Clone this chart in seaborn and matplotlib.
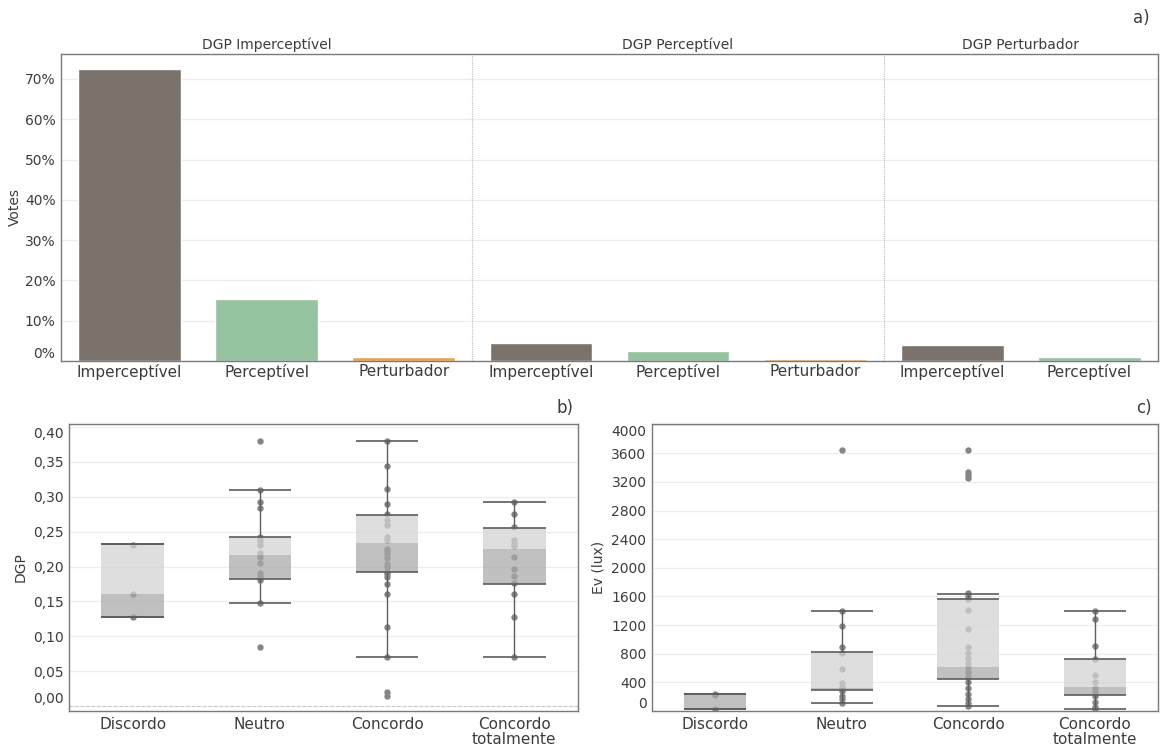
import matplotlib
matplotlib.use("Agg")
import matplotlib.pyplot as plt
import seaborn as sns
import pandas as pd
import numpy as np

# ---------------- data ----------------
# a) votes per DGP class
panel_groups = ["DGP Imperceptível", "DGP Imperceptível", "DGP Imperceptível",
                "DGP Perceptível", "DGP Perceptível", "DGP Perceptível",
                "DGP Perturbador", "DGP Perturbador"]
vote_categories = ["Imperceptível", "Perceptível", "Perturbador",
                   "Imperceptível", "Perceptível", "Perturbador",
                   "Imperceptível", "Perceptível"]
vote_pct = [72.4, 15.4, 1.0, 4.5, 2.6, 0.6, 3.9, 1.0]

# b) / c) agreement categories
agree_labels = ["Discordo", "Neutro", "Concordo", "Concordo\ntotalmente"]

dgp_discordo = [0.231, 0.160, 0.127]
dgp_neutro = [0.380, 0.309, 0.293, 0.284, 0.243, 0.237, 0.231, 0.220, 0.213,
              0.205, 0.190, 0.186, 0.181, 0.148, 0.085]
dgp_concordo = [0.380, 0.344, 0.311, 0.290, 0.275, 0.267, 0.259, 0.243, 0.238,
                0.225, 0.222, 0.218, 0.212, 0.204, 0.199, 0.192, 0.189, 0.185,
                0.175, 0.161, 0.113, 0.070, 0.020, 0.015]
dgp_conc_tot = [0.293, 0.275, 0.256, 0.238, 0.233, 0.229, 0.213, 0.196, 0.186,
                0.176, 0.161, 0.127, 0.070]

dgp_q1 = [0.127, 0.182, 0.192, 0.175]
dgp_med = [0.161, 0.216, 0.234, 0.225]
dgp_q3 = [0.232, 0.242, 0.274, 0.255]
dgp_wlo = [0.127, 0.148, 0.070, 0.070]
dgp_whi = [0.232, 0.309, 0.380, 0.293]

ev_discordo = [232, 218, 31]
ev_neutro = [3645, 1396, 1191, 897, 805, 581, 394, 338, 282, 208, 171, 115]
ev_concordo = [3645, 3342, 3296, 3249, 1643, 1605, 1565, 1410, 1140, 897, 805,
               735, 674, 618, 548, 478, 408, 315, 236, 162, 106, 68]
ev_conc_tot = [1396, 1279, 907, 721, 502, 408, 315, 268, 208, 129, 59, 22]

ev_q1 = [31, 292, 441, 222]
ev_med = [225, 325, 609, 329]
ev_q3 = [232, 818, 1559, 721]
ev_wlo = [31, 115, 68, 31]
ev_whi = [232, 1396, 1633, 1396]

# ---------------- style ----------------
sns.set_theme(style="white")
plt.rcParams["font.family"] = ["DejaVu Sans"]
TXT = "#3c3c3c"
GRID = "#ededed"
SPINE = "#7a7a7a"
plt.rcParams["text.color"] = TXT
plt.rcParams["axes.labelcolor"] = TXT
plt.rcParams["xtick.color"] = TXT
plt.rcParams["ytick.color"] = TXT

palette = {"Imperceptível": "#7b736b", "Perceptível": "#95c29f", "Perturbador": "#e8a24e"}

fig = plt.figure(figsize=(11.61, 7.51), dpi=100)
W, H = 1161, 751


def add_ax(l, t, r, b):
    return fig.add_axes([l / W, 1 - b / H, (r - l) / W, (b - t) / H])


def style_ax(ax):
    for s in ax.spines.values():
        s.set_visible(True)
        s.set_color(SPINE)
        s.set_linewidth(1.0)
    ax.tick_params(axis="both", length=0, labelsize=10, pad=4)
    ax.grid(axis="y", color=GRID, linewidth=0.9)
    ax.grid(axis="x", visible=False)
    ax.set_axisbelow(True)


# ---------------- a) ----------------
axA = add_ax(61, 54, 1158, 361)
keys = [f"{g}|{c}" for g, c in zip(panel_groups, vote_categories)]
dfA = pd.DataFrame({"key": keys, "cat": vote_categories, "pct": vote_pct})
sns.barplot(data=dfA, x="key", y="pct", hue="cat", palette=palette, order=keys,
            dodge=False, width=0.75, saturation=1, legend=False, ax=axA)
style_ax(axA)
axA.set_xlim(-0.5, len(keys) - 0.5)
axA.set_ylim(0, 76.2)
axA.set_yticks(np.arange(0, 71, 10))
axA.set_yticklabels([f"{v}%" for v in range(0, 71, 10)])
axA.set_xticks(range(len(keys)))
axA.set_xticklabels(vote_categories, fontsize=11)
axA.tick_params(axis="x", pad=2)
axA.set_xlabel("")
axA.set_ylabel("Votes", fontsize=10, labelpad=2)
axA.get_yticklabels()[0].set_va("bottom")
# panel separators and titles
uniq_groups = list(dict.fromkeys(panel_groups))
pos = 0
for gi, g in enumerate(uniq_groups):
    n = panel_groups.count(g)
    centre = pos + (n - 1) / 2
    axA.text(centre, 1.005, g, transform=axA.get_xaxis_transform(),
             ha="center", va="bottom", fontsize=10, color=TXT)
    if gi > 0:
        axA.axvline(pos - 0.5, color="#bbbbbb", linestyle=(0, (1, 1)), linewidth=0.8)
    pos += n
fig.text(1150 / W, 1 - 18 / H, "a)", ha="right", va="center", fontsize=12, color=TXT)


# ---------------- box helper ----------------
def draw_box(ax, groups, q1, med, q3, wlo, whi):
    rows = []
    for lab, vals in zip(agree_labels, groups):
        for v in vals:
            rows.append({"cat": lab, "v": v})
    df = pd.DataFrame(rows)
    sns.stripplot(data=df, x="cat", y="v", order=agree_labels, jitter=False,
                  color="#858585", size=4.6, ax=ax, zorder=2)
    bw = 0.49
    x = np.arange(len(agree_labels))
    ax.bar(x, np.array(med) - np.array(q1), bottom=q1, width=bw,
           color="#a8a8a8", alpha=0.72, zorder=3, linewidth=0)
    ax.bar(x, np.array(q3) - np.array(med), bottom=med, width=bw,
           color="#d4d4d4", alpha=0.75, zorder=3, linewidth=0)
    lc = "#5c5c5c"
    ax.vlines(x, q3, whi, color=lc, linewidth=1.0, zorder=4)
    ax.vlines(x, wlo, q1, color=lc, linewidth=1.0, zorder=4)
    for arr in (q1, q3, wlo, whi):
        ax.hlines(arr, x - bw / 2, x + bw / 2, color=lc, linewidth=1.2, zorder=4)
    ax.set_xlim(-0.5, len(agree_labels) - 0.5)
    ax.set_xlabel("")


# ---------------- b) ----------------
axB = add_ax(69, 424, 578, 711)
draw_box(axB, [dgp_discordo, dgp_neutro, dgp_concordo, dgp_conc_tot],
         dgp_q1, dgp_med, dgp_q3, dgp_wlo, dgp_whi)
style_ax(axB)
axB.set_ylim(-0.0071, 0.4043)
bt = np.round(np.arange(0, 0.401, 0.05), 2)
axB.set_yticks(bt)
axB.set_yticklabels([f"{v:.2f}".replace(".", ",") for v in bt])
axB.axhline(0, color="#c8c8c8", linestyle=(0, (3, 2)), linewidth=0.8, zorder=1)
axB.set_xticks(range(4))
axB.set_xticklabels(agree_labels, fontsize=11, linespacing=1.0)
axB.set_ylabel("DGP", fontsize=10, labelpad=4)
axB.get_yticklabels()[0].set_va("bottom")
axB.get_yticklabels()[-1].set_va("top")
fig.text(573 / W, 1 - 408 / H, "b)", ha="right", va="center", fontsize=12, color=TXT)

# ---------------- c) ----------------
axC = add_ax(652, 424, 1158, 711)
draw_box(axC, [ev_discordo, ev_neutro, ev_concordo, ev_conc_tot],
         ev_q1, ev_med, ev_q3, ev_wlo, ev_whi)
style_ax(axC)
axC.set_ylim(-2, 4010)
ct = np.arange(0, 4001, 400)
axC.set_yticks(ct)
axC.set_yticklabels([str(v) for v in ct])
axC.set_xticks(range(4))
axC.set_xticklabels(agree_labels, fontsize=11, linespacing=1.0)
axC.set_ylabel("Ev (lux)", fontsize=10, labelpad=4)
axC.get_yticklabels()[0].set_va("bottom")
axC.get_yticklabels()[-1].set_va("top")
fig.text(1152 / W, 1 - 408 / H, "c)", ha="right", va="center", fontsize=12, color=TXT)

fig.savefig("out.png", dpi=100)
